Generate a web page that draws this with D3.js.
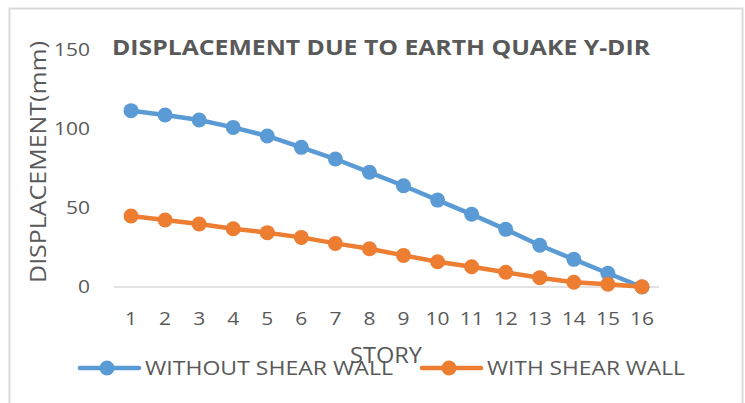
<!DOCTYPE html>
<html>
<head>
<meta charset="utf-8">
<script src="https://cdn.jsdelivr.net/npm/d3@7/dist/d3.min.js"></script>
<style>
  html, body { margin: 0; padding: 0; background: #fff; }
  svg text { font-family: "Open Sans", "Liberation Sans", sans-serif; fill: #595959; }
</style>
</head>
<body>
<svg id="chart" width="745" height="403"></svg>
<script>
// Storey numbers along the x axis
const stories = ["1","2","3","4","5","6","7","8","9","10","11","12","13","14","15","16"];
// Lateral displacement (mm) per storey
const withoutShearWall = [111.6, 108.9, 105.7, 101.0, 95.6, 88.4, 81.0, 72.6, 64.1, 55.0, 46.0, 36.5, 26.4, 17.5, 8.7, 0];
const withShearWall    = [44.9, 42.4, 39.9, 36.9, 34.4, 31.4, 27.6, 24.2, 20.0, 16.0, 12.8, 9.3, 5.9, 3.0, 1.7, 0.2];
const yTicks = [0, 50, 100, 150];

const seriesNames = ["WITHOUT SHEAR WALL", "WITH SHEAR WALL"];
const seriesColors = ["#5B9BD5", "#ED7D31"];
const seriesValues = [withoutShearWall, withShearWall];

const svg = d3.select("#chart");

// chart frame
svg.append("rect")
  .attr("x", 9.5).attr("y", 8.5)
  .attr("width", 733).attr("height", 400)
  .attr("fill", "#fff").attr("stroke", "#d9d9d9").attr("stroke-width", 2);

const x = d3.scaleBand().domain(stories).range([114, 659]);
const y = d3.scaleLinear().domain([0, 150]).range([287, 50]);

// baseline at zero
svg.append("line")
  .attr("x1", x.range()[0]).attr("x2", x.range()[1])
  .attr("y1", y(0)).attr("y2", y(0))
  .attr("stroke", "#d9d9d9").attr("stroke-width", 1.5);

// digits are drawn slightly wide
const numWidth = s => 12 * String(s).length;

// y tick labels
svg.append("g").selectAll("text").data(yTicks).join("text")
  .attr("x", 90).attr("y", d => y(d))
  .attr("dy", "0.36em")
  .attr("text-anchor", "end")
  .attr("textLength", d => numWidth(d)).attr("lengthAdjust", "spacingAndGlyphs")
  .style("font-size", "18px")
  .text(d => d);

// x tick labels
svg.append("g").selectAll("text").data(stories).join("text")
  .attr("x", d => x(d) + x.bandwidth() / 2)
  .attr("y", 318.5).attr("dy", "0.36em")
  .attr("text-anchor", "middle")
  .attr("textLength", d => numWidth(d)).attr("lengthAdjust", "spacingAndGlyphs")
  .style("font-size", "18px")
  .text(d => d);

// series lines and markers
const line = d3.line()
  .x((d, i) => x(stories[i]) + x.bandwidth() / 2)
  .y(d => y(d));

seriesValues.forEach((vals, k) => {
  const g = svg.append("g");
  g.append("path")
    .datum(vals)
    .attr("d", line)
    .attr("fill", "none")
    .attr("stroke", seriesColors[k])
    .attr("stroke-width", 4.5)
    .attr("stroke-linejoin", "round");
  g.selectAll("circle").data(vals).join("circle")
    .attr("cx", (d, i) => x(stories[i]) + x.bandwidth() / 2)
    .attr("cy", d => y(d))
    .attr("r", 7.5)
    .attr("fill", seriesColors[k]);
});

// title
svg.append("text")
  .attr("x", 112).attr("y", 55)
  .attr("textLength", 538).attr("lengthAdjust", "spacingAndGlyphs")
  .style("font-size", "21px").style("font-weight", "bold")
  .text("DISPLACEMENT DUE TO EARTH QUAKE Y-DIR");

// axis titles
svg.append("text")
  .attr("transform", "translate(46,162) rotate(-90)")
  .attr("text-anchor", "middle")
  .attr("textLength", 242).attr("lengthAdjust", "spacingAndGlyphs")
  .style("font-size", "21px")
  .text("DISPLACEMENT(mm)");

svg.append("text")
  .attr("x", 386).attr("y", 363)
  .attr("text-anchor", "middle")
  .attr("textLength", 72).attr("lengthAdjust", "spacingAndGlyphs")
  .style("font-size", "21px")
  .text("STORY");

// legend
const legendItems = [
  { lx: 80, tx: 145, tw: 248 },
  { lx: 422, tx: 487, tw: 198 }
];
legendItems.forEach((p, k) => {
  const g = svg.append("g");
  g.append("line")
    .attr("x1", p.lx).attr("x2", p.lx + 59)
    .attr("y1", 368).attr("y2", 368)
    .attr("stroke", seriesColors[k]).attr("stroke-width", 4.5)
    .attr("stroke-linecap", "round");
  g.append("circle")
    .attr("cx", p.lx + 27).attr("cy", 368).attr("r", 7.5)
    .attr("fill", seriesColors[k]);
  g.append("text")
    .attr("x", p.tx).attr("y", 375)
    .attr("textLength", p.tw).attr("lengthAdjust", "spacingAndGlyphs")
    .style("font-size", "20px")
    .text(seriesNames[k]);
});
</script>
</body>
</html>
